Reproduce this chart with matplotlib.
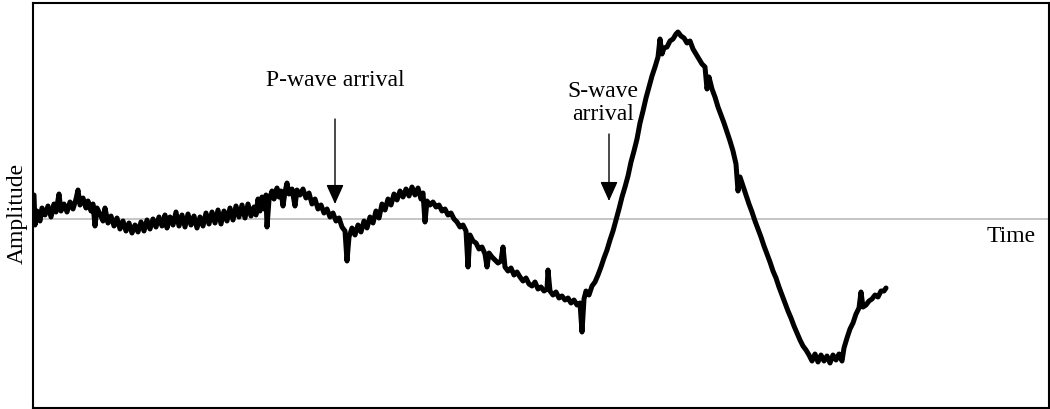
import matplotlib.pyplot as plt

plt.rcParams['font.family'] = ['Liberation Serif', 'DejaVu Serif']

# trace (time in arbitrary units, amplitude relative to zero line)
time = [34, 35, 37, 40, 42, 45, 48, 51, 54, 56, 59, 61, 64, 67, 70, 73, 76, 78, 80, 83,
        86, 88, 91, 93, 95, 97, 100, 103, 105, 108, 111, 114, 117, 120, 123, 126, 129, 132, 135, 138,
        141, 144, 147, 150, 153, 156, 159, 162, 165, 167, 170, 173, 176, 179, 182, 185, 188, 191, 194, 197,
        200, 203, 206, 209, 212, 215, 218, 221, 224, 227, 230, 233, 236, 239, 242, 245, 248, 251, 254, 256,
        258, 260, 262, 264, 266, 267, 269, 272, 274, 277, 279, 281, 283, 285, 287, 289, 292, 295, 297, 300,
        303, 306, 309, 312, 315, 318, 321, 324, 327, 330, 333, 336, 339, 342, 345, 347, 349, 352, 355, 358,
        361, 364, 367, 370, 373, 376, 379, 382, 385, 388, 391, 394, 397, 400, 403, 406, 409, 412, 415, 418,
        421, 423, 425, 427, 430, 433, 436, 439, 442, 445, 448, 451, 454, 457, 460, 463, 466, 468, 470, 473,
        476, 479, 482, 485, 487, 489, 492, 495, 498, 501, 503, 505, 508, 511, 514, 517, 520, 523, 526, 529,
        532, 535, 538, 541, 544, 547, 548, 550, 553, 556, 559, 562, 565, 568, 571, 574, 577, 580, 582, 584,
        586, 589, 592, 595, 598, 601, 604, 607, 610, 613, 616, 619, 622, 625, 628, 631, 634, 637, 640, 643,
        646, 649, 652, 655, 658, 660, 662, 664, 667, 670, 673, 676, 678, 681, 684, 687, 690, 693, 696, 699,
        702, 705, 707, 709, 712, 715, 718, 721, 724, 727, 730, 733, 736, 738, 740, 743, 746, 749, 752, 755,
        758, 761, 764, 767, 770, 773, 776, 779, 782, 785, 788, 791, 794, 797, 800, 803, 806, 809, 812, 815,
        818, 821, 824, 827, 830, 833, 836, 839, 842, 844, 847, 850, 853, 856, 859, 861, 863, 866, 869, 872,
        875, 878, 881, 884, 886]
amplitude = [24, -6, 8, -2, 11, 4, 13, 2, 15, 7, 25, 8, 15, 7, 17, 10, 20, 29, 14, 21,
             11, 18, 8, 15, -7, 11, 5, -2, 11, -4, 3, -7, 1, -10, -2, -12, -4, -14, -6, -13,
             -3, -12, -1, -10, 0, -8, 2, -7, 4, -9, 2, -6, 7, -7, 4, -8, 5, -6, 3, -9,
             2, -7, 6, -5, 7, -4, 9, -5, 8, -2, 11, -1, 13, 2, 14, 1, 15, 3, 12, 4,
             20, 8, 22, 10, 24, -8, 19, 28, 20, 31, 22, 28, 13, 27, 36, 25, 30, 13, 29, 24,
             30, 21, 26, 15, 20, 10, 14, 6, 10, 2, 6, -2, 1, -8, -12, -42, -18, -9, -16, -6,
             -13, -2, -9, 2, -4, 8, 1, 15, 9, 20, 14, 25, 19, 28, 22, 30, 23, 32, 24, 31,
             20, 26, -3, 18, 14, 17, 12, 14, 8, 10, 4, 6, 0, -3, -8, -6, -12, -48, -16, -22,
             -24, -30, -28, -35, -48, -34, -38, -41, -44, -42, -28, -48, -52, -49, -56, -53, -58, -62, -59, -65,
             -67, -63, -70, -68, -72, -70, -51, -72, -76, -73, -79, -77, -81, -79, -84, -81, -86, -84, -113, -80,
             -72, -76, -67, -63, -56, -48, -39, -31, -21, -12, -1, 10, 22, 32, 43, 57, 68, 80, 96, 108,
             121, 132, 143, 152, 162, 180, 165, 171, 172, 178, 180, 185, 187, 183, 181, 176, 178, 170, 165, 160,
             155, 152, 130, 142, 130, 122, 112, 104, 96, 87, 78, 68, 55, 28, 42, 33, 24, 15, 7, -2,
             -10, -18, -27, -35, -43, -52, -59, -68, -76, -84, -92, -99, -107, -114, -121, -127, -131, -136, -142, -135,
             -143, -136, -142, -137, -144, -136, -141, -135, -142, -129, -119, -110, -104, -95, -89, -73, -88, -86, -82, -80,
             -76, -78, -72, -72, -69]

fig = plt.figure(figsize=(10.5, 4.1), dpi=100)
ax = fig.add_axes([33 / 1050, 1 / 410, 1016 / 1050, 405 / 410])

ax.axhline(0, color='#c0c0c0', lw=1.3, zorder=1)
ax.plot(time, amplitude, color='black', lw=3.6, solid_joinstyle='round',
        solid_capstyle='round', zorder=2)

ax.set_xlim(33, 1049)
ax.set_ylim(-189, 216)
ax.set_xticks([])
ax.set_yticks([])
for s in ax.spines.values():
    s.set_linewidth(1.5)
    s.set_color('black')

arrow = dict(arrowstyle='-|>,head_length=0.6,head_width=0.27', color='black', lw=1,
             mutation_scale=20, shrinkA=0, shrinkB=0)
ax.annotate('', xy=(335, 15), xytext=(335, 100), arrowprops=arrow)
ax.annotate('', xy=(609, 18), xytext=(609, 85), arrowprops=arrow)

ax.text(335, 140, 'P-wave arrival', fontsize=17, ha='center', va='center')
ax.text(603, 117, 'S-wave\narrival', fontsize=17, ha='center', va='center', linespacing=1.15)
ax.text(987, -17, 'Time', fontsize=17, ha='left', va='center')

fig.text(17 / 1050, 1 - 213 / 410, 'Amplitude', fontsize=17, rotation=90,
         ha='center', va='center')

fig.savefig('out.png', dpi=100)
